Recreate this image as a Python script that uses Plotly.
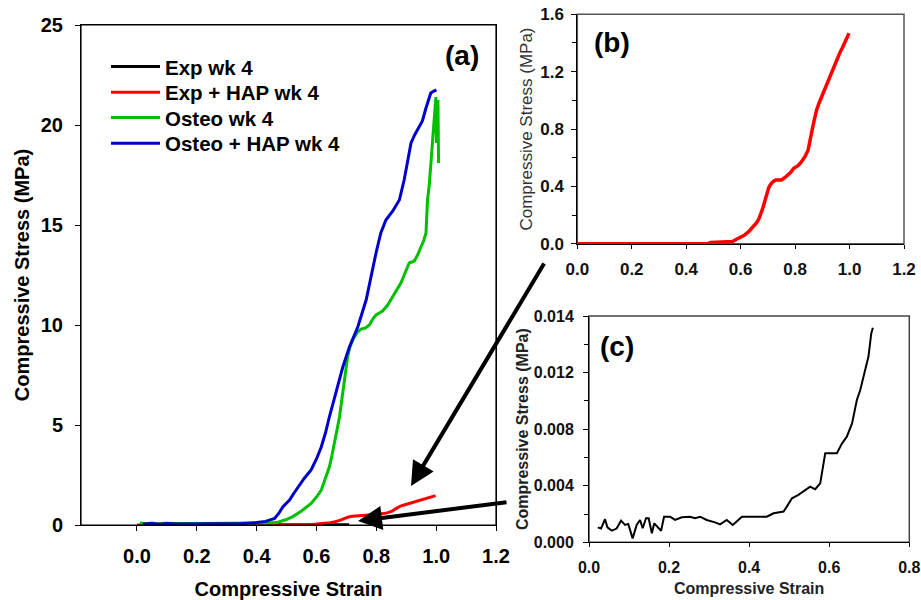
import plotly.graph_objects as go

# ---------------- data ----------------
# Exp wk 4 (black) - also panel (c)
strain_exp = [0.022, 0.030, 0.040, 0.046, 0.057, 0.069, 0.080, 0.090, 0.098, 0.109, 0.119, 0.1275,
              0.134, 0.1425, 0.149, 0.157, 0.163, 0.171, 0.180, 0.1875, 0.2025, 0.215, 0.232, 0.2525,
              0.265, 0.2775, 0.294, 0.315, 0.3275, 0.344, 0.359, 0.373, 0.382, 0.411, 0.444, 0.461,
              0.486, 0.494, 0.507, 0.523, 0.540, 0.5525, 0.565, 0.5775, 0.590, 0.619, 0.632, 0.644,
              0.657, 0.669, 0.6775, 0.690, 0.698, 0.705, 0.709]
stress_exp = [0.00106, 0.00097, 0.00163, 0.00106, 0.00082, 0.00097, 0.00153, 0.00123, 0.00130, 0.00028,
              0.00123, 0.00158, 0.00099, 0.00170, 0.00170, 0.00064, 0.00134, 0.00106, 0.00082, 0.00181,
              0.00181, 0.00158, 0.00177, 0.00181, 0.00170, 0.00181, 0.00158, 0.00141, 0.00127, 0.00158,
              0.00123, 0.00158, 0.00181, 0.00181, 0.00181, 0.00205, 0.00217, 0.00252, 0.00311, 0.00335,
              0.00370, 0.00394, 0.00375, 0.00417, 0.00629, 0.00629, 0.00700, 0.00747, 0.00841, 0.01006,
              0.01077, 0.01218, 0.01313, 0.01477, 0.01517]

# Exp + HAP wk 4 (red) - also panel (b)
strain_exp_hap = [0.0, 0.05, 0.1, 0.15, 0.2, 0.25, 0.3, 0.35, 0.4, 0.45, 0.48, 0.49, 0.52, 0.55, 0.57,
                  0.585, 0.6, 0.615, 0.63, 0.646, 0.658, 0.668, 0.676, 0.683, 0.69, 0.697, 0.703, 0.71,
                  0.72, 0.729, 0.74, 0.75, 0.762, 0.774, 0.785, 0.795, 0.803, 0.811, 0.823, 0.836, 0.848,
                  0.855, 0.86, 0.87, 0.879, 0.89, 0.903, 0.915, 0.927, 0.94, 0.952, 0.964, 0.976, 0.988,
                  0.998]
stress_exp_hap = [0, 0, 0, 0, 0, 0, 0, 0, 0, 0.001, 0.002, 0.008, 0.009, 0.01, 0.015, 0.031, 0.045,
                  0.061, 0.085, 0.119, 0.145, 0.177, 0.215, 0.258, 0.305, 0.352, 0.39, 0.414, 0.435,
                  0.444, 0.445, 0.444, 0.46, 0.479, 0.5, 0.526, 0.538, 0.544, 0.57, 0.607, 0.654, 0.71,
                  0.77, 0.86, 0.933, 0.99, 1.05, 1.105, 1.165, 1.225, 1.282, 1.33, 1.375, 1.42, 1.468]

# Osteo wk 4 (green)
strain_osteo = [0.01, 0.03, 0.05, 0.07, 0.09, 0.12, 0.15, 0.2, 0.25, 0.3, 0.35, 0.4, 0.44, 0.466, 0.495,
                0.521, 0.55, 0.582, 0.6, 0.616, 0.63, 0.643, 0.652, 0.66, 0.668, 0.677, 0.685, 0.693,
                0.704, 0.712, 0.721, 0.735, 0.749, 0.763, 0.777, 0.788, 0.799, 0.81, 0.821, 0.838, 0.854,
                0.868, 0.882, 0.896, 0.91, 0.927, 0.938, 0.949, 0.958, 0.966, 0.971, 0.977, 0.982, 0.987,
                0.991, 0.995, 0.999, 1.001, 1.004, 1.006, 1.008]
stress_osteo = [0.1, 0.06, 0.1, 0.05, 0.09, 0.07, 0.08, 0.08, 0.08, 0.08, 0.08, 0.09, 0.1, 0.12, 0.25,
                0.42, 0.7, 1.08, 1.4, 1.75, 2.3, 2.9, 3.5, 4.1, 4.8, 5.4, 6.3, 7.1, 8.4, 8.9, 9.25, 9.6,
                9.8, 9.85, 10.0, 10.3, 10.5, 10.6, 10.7, 11.0, 11.4, 11.7, 12.1, 12.6, 13.1, 13.2, 13.5,
                13.9, 14.2, 14.6, 16.25, 17.0, 17.9, 18.8, 19.6, 20.5, 21.4, 19.1, 20.6, 21.25, 18.1]

# Osteo + HAP wk 4 (blue)
strain_osteo_hap = [0.02, 0.05, 0.08, 0.1, 0.13, 0.16, 0.2, 0.25, 0.3, 0.35, 0.4, 0.43, 0.46, 0.475,
                    0.488, 0.51, 0.525, 0.543, 0.56, 0.582, 0.6, 0.616, 0.63, 0.643, 0.66, 0.675, 0.688,
                    0.71, 0.725, 0.738, 0.766, 0.771, 0.785, 0.799, 0.815, 0.832, 0.855, 0.877, 0.893,
                    0.905, 0.916, 0.928, 0.938, 0.954, 0.965, 0.982, 0.992, 1.001]
stress_osteo_hap = [0.05, 0.08, 0.04, 0.07, 0.05, 0.06, 0.06, 0.06, 0.06, 0.07, 0.12, 0.18, 0.33, 0.6,
                    0.92, 1.25, 1.6, 2.0, 2.35, 2.75, 3.3, 3.9, 4.6, 5.4, 6.4, 7.2, 7.9, 8.9, 9.4, 9.9,
                    11.25, 11.6, 12.7, 13.6, 14.6, 15.25, 15.7, 16.25, 17.25, 18.3, 19.1, 19.5, 19.8,
                    20.2, 20.8, 21.6, 21.7, 21.75]

series_names = ["Exp wk 4", "Exp + HAP wk 4", "Osteo wk 4", "Osteo + HAP wk 4"]
series_colors = ["#000000", "#ff0000", "#00c000", "#0000cc"]

ticks_a_x = [0.0, 0.2, 0.4, 0.6, 0.8, 1.0, 1.2]
ticks_a_y = [0, 5, 10, 15, 20, 25]
ticks_b_x = [0.0, 0.2, 0.4, 0.6, 0.8, 1.0, 1.2]
ticks_b_y = [0.0, 0.4, 0.8, 1.2, 1.6]
ticks_c_x = [0.0, 0.2, 0.4, 0.6, 0.8]
ticks_c_y = [0.0, 0.004, 0.008, 0.012, 0.016]
ticktext_c_y = ["0.000", "0.004", "0.008", "0.012", "0.014"]

# ---------------- figure ----------------
W, H = 921, 600
FAM = "Liberation Sans, Arial, sans-serif"

def px_x(p):
    return p / W

def px_y(p):
    return 1 - p / H

fig = go.Figure()

panel_a = [(strain_exp, stress_exp), (strain_exp_hap, stress_exp_hap),
           (strain_osteo, stress_osteo), (strain_osteo_hap, stress_osteo_hap)]
legends = ["legend", "legend2", "legend3", "legend4"]
for i, (xs, ys) in enumerate(panel_a):
    fig.add_trace(go.Scatter(x=xs, y=ys, mode="lines", name=series_names[i],
                             line=dict(color=series_colors[i], width=3),
                             xaxis="x", yaxis="y", cliponaxis=False,
                             legend=legends[i], showlegend=True))

fig.add_trace(go.Scatter(x=strain_exp_hap, y=stress_exp_hap, mode="lines", name=series_names[1],
                         line=dict(color=series_colors[1], width=3.5), xaxis="x2", yaxis="y2",
                         cliponaxis=False, showlegend=False))
fig.add_trace(go.Scatter(x=strain_exp, y=stress_exp, mode="lines", name=series_names[0],
                         line=dict(color=series_colors[0], width=2), xaxis="x3", yaxis="y3",
                         cliponaxis=False, showlegend=False))

tick_a = dict(family=FAM, size=20, color="#000000", weight="bold")
tick_bc = dict(family=FAM, size=17, color="#111111", weight="bold")
tick_c = dict(family=FAM, size=16, color="#111111", weight="bold")

common = dict(showgrid=False, zeroline=False, showline=True, linecolor="#000000", linewidth=1,
              ticks="outside", tickcolor="#000000", tickwidth=1, automargin=False)

layout = dict(
    template="none",
    width=W, height=H, margin=dict(l=0, r=0, t=0, b=0, pad=0),
    paper_bgcolor="white", plot_bgcolor="rgba(0,0,0,0)",
    font=dict(family=FAM, color="#000000"),
    xaxis=dict(domain=[px_x(81), px_x(496)], range=[-0.187, 1.2], tickvals=ticks_a_x,
               tickformat=".1f", ticklen=5, tickfont=tick_a, mirror=True, anchor="y",
               ticklabelstandoff=8,
               title=dict(text="Compressive Strain",
                          font=dict(family=FAM, size=20, color="#000000", weight="bold"),
                          standoff=18), **common),
    yaxis=dict(domain=[px_y(525), px_y(25)], range=[0, 25], tickvals=ticks_a_y, tickformat="d",
               ticklen=5, tickfont=tick_a, mirror=True, anchor="x", ticklabelstandoff=8,
               title=dict(text="Compressive Stress (MPa)",
                          font=dict(family=FAM, size=20, color="#000000", weight="bold"),
                          standoff=5), **common),
    xaxis2=dict(domain=[px_x(577.3), px_x(904)], range=[0, 1.2], tickvals=ticks_b_x, tickformat=".1f",
                ticklen=4, tickfont=tick_bc, anchor="y2", ticklabelstandoff=6, **common),
    yaxis2=dict(domain=[px_y(243.7), px_y(14.3)], range=[0, 1.6], tickvals=ticks_b_y, tickformat=".1f",
                ticklen=5, tickfont=tick_bc, anchor="x2", ticklabelstandoff=4,
                minor=dict(ticks="outside", dtick=0.2, ticklen=4, tickcolor="#000000"),
                title=dict(text="Compressive Stress (MPa)",
                           font=dict(family=FAM, size=17, color="#333333"), standoff=3),
                **common),
    xaxis3=dict(domain=[px_x(589), px_x(909.3)], range=[0, 0.8], tickvals=ticks_c_x, tickformat=".1f",
                ticklen=4, tickfont=tick_c, anchor="y3", ticklabelstandoff=6,
                title=dict(text="Compressive Strain",
                           font=dict(family=FAM, size=16, color="#222222", weight="bold"), standoff=8),
                **common),
    yaxis3=dict(domain=[px_y(542.3), px_y(316)], range=[0, 0.016], tickvals=ticks_c_y,
                ticktext=ticktext_c_y, ticklen=5, tickfont=tick_c, anchor="x3", ticklabelstandoff=6,
                minor=dict(ticks="outside", dtick=0.002, ticklen=4, tickcolor="#000000"),
                title=dict(text="Compressive Stress (MPa)",
                           font=dict(family=FAM, size=16, color="#222222", weight="bold"), standoff=1),
                **common),
)

legend_rows = [66.7, 92.3, 117.7, 143.3]
for name, row in zip(legends, legend_rows):
    layout[name] = dict(x=px_x(106), y=px_y(row), xanchor="left", yanchor="middle",
                        bgcolor="rgba(0,0,0,0)", borderwidth=0, itemwidth=49,
                        font=dict(family=FAM, size=20.5, color="#000000", weight="bold"))

fig.update_layout(**layout)

# frames (main panel black, insets with grey top/right edges)
fig.add_shape(type="rect", xref="x domain", yref="y domain", x0=0, x1=1, y0=0, y1=1,
              line=dict(color="#000000", width=1.2), layer="above")
for xr, yr, col in [("x2 domain", "y2 domain", "#555555"), ("x3 domain", "y3 domain", "#444444")]:
    fig.add_shape(type="rect", xref=xr, yref=yr, x0=0, x1=1, y0=0, y1=1,
                  line=dict(color=col, width=1.5), layer="below")

# panel labels
for txt, cx, cy in [("(a)", 462, 55), ("(b)", 611.7, 42.7), ("(c)", 616.7, 346)]:
    fig.add_annotation(text=txt, xref="paper", yref="paper", x=px_x(cx), y=px_y(cy),
                       xanchor="center", yanchor="middle", showarrow=False,
                       font=dict(family=FAM, size=28, color="#000000", weight="bold"))

# arrows
for (hx, hy), (tx, ty) in [((411, 486), (545, 262)), ((358, 521), (508, 502))]:
    fig.add_annotation(text="", xref="paper", yref="paper", x=px_x(hx), y=px_y(hy),
                       axref="pixel", ayref="pixel", ax=tx - hx, ay=ty - hy,
                       showarrow=True, arrowhead=2, arrowsize=1.2, arrowwidth=4,
                       arrowcolor="#000000", standoff=0)

fig.write_html("out.html")
